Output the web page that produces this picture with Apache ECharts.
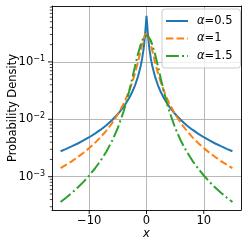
<!DOCTYPE html>
<html>
<head>
<meta charset="utf-8">
<script src="https://cdn.jsdelivr.net/npm/echarts@6/dist/echarts.min.js"></script>
<style>
html,body{margin:0;padding:0;background:#fff;}
#c{width:249px;height:249px;}
</style>
</head>
<body>
<div id="c"></div>
<script>
const X = [-15,-14,-13,-12,-11,-10,-9,-8,-7,-6,-5,-4,-3.5,-3,-2.5,-2,-1.5,-1,-0.75,-0.5,-0.25,-0.1,0,0.1,0.25,0.5,0.75,1,1.5,2,2.5,3,3.5,4,5,6,7,8,9,10,11,12,13,14,15];
const alpha05 = [0.00278,0.00306,0.00340,0.00379,0.00428,0.00487,0.00563,0.00660,0.00790,0.00971,0.01235,0.01651,0.01959,0.02380,0.02985,0.03914,0.0549,0.0861,0.1161,0.1708,0.2957,0.475,0.6366,0.475,0.2957,0.1708,0.1161,0.0861,0.0549,0.03914,0.02985,0.02380,0.01959,0.01651,0.01235,0.00971,0.00790,0.00660,0.00563,0.00487,0.00428,0.00379,0.00340,0.00306,0.00278];
const alpha1 = [0.00141,0.00162,0.00187,0.00220,0.00261,0.00315,0.00388,0.00490,0.00637,0.00860,0.01224,0.01872,0.0240,0.0318,0.0439,0.0637,0.0979,0.1592,0.2037,0.2546,0.2996,0.3152,0.3183,0.3152,0.2996,0.2546,0.2037,0.1592,0.0979,0.0637,0.0439,0.0318,0.0240,0.01872,0.01224,0.00860,0.00637,0.00490,0.00388,0.00315,0.00261,0.00220,0.00187,0.00162,0.00141];
const alpha15 = [0.000363,0.000434,0.000526,0.000648,0.000814,0.00105,0.00139,0.00191,0.00275,0.00422,0.00711,0.01367,0.0202,0.0316,0.0511,0.0845,0.1361,0.2020,0.2347,0.2623,0.2808,0.2863,0.2874,0.2863,0.2808,0.2623,0.2347,0.2020,0.1361,0.0845,0.0511,0.0316,0.0202,0.01367,0.00711,0.00422,0.00275,0.00191,0.00139,0.00105,0.000814,0.000648,0.000526,0.000434,0.000363];
const seriesNames = ['α=0.5','α=1','α=1.5'];
const xTicks = [-10, 0, 10];
const yMajorTicks = [1e-3, 1e-2, 1e-1];
const yMinorTicks = [3e-4,4e-4,5e-4,6e-4,7e-4,8e-4,9e-4,2e-3,3e-3,4e-3,5e-3,6e-3,7e-3,8e-3,9e-3,2e-2,3e-2,4e-2,5e-2,6e-2,7e-2,8e-2,9e-2,2e-1,3e-1,4e-1,5e-1,6e-1,7e-1,8e-1,9e-1];

const FONT = 'DejaVu Sans';
const FS = 11.5;
const LW = 2;
const XMIN = -16.5, XMAX = 16.5;
const YMIN = Math.pow(10, -3.58), YMAX = Math.pow(10, -0.026);

function pairs(vals) { return X.map((x, i) => [x, vals[i]]); }

function tickSeries(data, kind) {
  return {
    type: 'custom', silent: true, clip: false, z: 5,
    xAxisIndex: 0, yAxisIndex: 0,
    data: data,
    renderItem: function (params, api) {
      if (kind === 'x') {
        const p = api.coord([api.value(0), YMIN]);
        return {type: 'line', shape: {x1: p[0], y1: p[1], x2: p[0], y2: p[1] + 4}, style: {stroke: '#000', lineWidth: 0.9}};
      }
      const p = api.coord([XMIN, api.value(1)]);
      const len = api.value(2);
      return {type: 'line', shape: {x1: p[0] - len, y1: p[1], x2: p[0], y2: p[1]}, style: {stroke: '#000', lineWidth: len > 3 ? 0.9 : 0.7}};
    }
  };
}

const option = {
  animation: false,
  textStyle: {fontFamily: FONT},
  grid: {left: 52, right: 8, top: 6, bottom: 39, containLabel: false, outerBoundsMode: 'none'},
  legend: {
    data: seriesNames,
    orient: 'vertical',
    left: 162, top: 9,
    padding: [6, 8, 6, 3],
    itemWidth: 22, itemHeight: 10, itemGap: 5.5,
    itemStyle: {color: 'rgba(0,0,0,0)', borderColor: 'rgba(0,0,0,0)', borderWidth: 0},
    backgroundColor: 'rgba(255,255,255,0.8)',
    borderColor: '#cccccc', borderWidth: 1, borderRadius: 3,
    formatter: function (name) { return '{i|α}{n|' + name.slice(1) + '}'; },
    textStyle: {
      fontSize: FS, color: '#000', fontFamily: FONT,
      rich: {
        i: {fontSize: FS, fontStyle: 'italic', fontFamily: FONT, color: '#000', padding: [0, 0, 0, 4]},
        n: {fontSize: FS, fontFamily: FONT, color: '#000'}
      }
    }
  },
  xAxis: [{
    type: 'value', min: XMIN, max: XMAX, splitNumber: 3, position: 'bottom',
    axisLine: {show: true, onZero: false, lineStyle: {color: '#000', width: 0.9}},
    axisTick: {show: false},
    axisLabel: {
      showMinLabel: false, showMaxLabel: false, margin: 5,
      fontSize: FS, color: '#000', fontFamily: FONT,
      formatter: function (v) { return (v < 0 ? '\u2212' : '') + Math.abs(v); }
    },
    splitLine: {show: true, showMinLine: false, showMaxLine: false, lineStyle: {color: '#b0b0b0', width: 0.9}},
    name: 'x', nameLocation: 'middle', nameGap: 18, nameMoveOverlap: false,
    nameTextStyle: {fontSize: FS, fontStyle: 'italic', color: '#000', fontFamily: FONT}
  }, {
    type: 'value', min: XMIN, max: XMAX, position: 'top',
    axisLine: {show: true, onZero: false, lineStyle: {color: '#000', width: 0.9}},
    axisTick: {show: false}, axisLabel: {show: false}, splitLine: {show: false}
  }],
  yAxis: [{
    type: 'log', logBase: 10, min: YMIN, max: YMAX, position: 'left',
    axisLine: {show: true, onZero: false, lineStyle: {color: '#000', width: 0.9}},
    axisTick: {show: false},
    minorTick: {show: false},
    axisLabel: {
      showMinLabel: false, showMaxLabel: false, margin: 7,
      formatter: function (v) {
        const e = Math.round(Math.log10(v));
        return '{b|10}{s|' + (e < 0 ? '\u2212' : '') + Math.abs(e) + '}';
      },
      rich: {
        b: {fontSize: FS, fontFamily: FONT, color: '#000', lineHeight: 14},
        s: {fontSize: 8, fontFamily: FONT, color: '#000', lineHeight: 6, verticalAlign: 'top'}
      }
    },
    splitLine: {show: true, showMinLine: false, showMaxLine: false, lineStyle: {color: '#b0b0b0', width: 0.9}},
    name: 'Probability Density', nameLocation: 'middle', nameGap: 33, nameMoveOverlap: false,
    nameTextStyle: {fontSize: FS, color: '#000', fontFamily: FONT}
  }, {
    type: 'log', logBase: 10, min: YMIN, max: YMAX, position: 'right',
    axisLine: {show: true, onZero: false, lineStyle: {color: '#000', width: 0.9}},
    axisTick: {show: false}, axisLabel: {show: false}, splitLine: {show: false}
  }],
  series: [
    {name: seriesNames[0], type: 'line', data: pairs(alpha05), symbol: 'none', showSymbol: false,
     color: '#1f77b4', lineStyle: {color: '#1f77b4', width: LW, type: 'solid'}, z: 2},
    {name: seriesNames[1], type: 'line', data: pairs(alpha1), symbol: 'none', showSymbol: false,
     color: '#ff7f0e', lineStyle: {color: '#ff7f0e', width: LW, type: [7.4, 3.2]}, z: 3},
    {name: seriesNames[2], type: 'line', data: pairs(alpha15), symbol: 'none', showSymbol: false,
     color: '#2ca02c', lineStyle: {color: '#2ca02c', width: LW, type: [12.8, 3.2, 2, 3.2]}, z: 4},
    tickSeries(xTicks.map(v => [v, YMIN]), 'x'),
    tickSeries(yMajorTicks.map(v => [XMIN, v, 4]), 'y'),
    tickSeries(yMinorTicks.map(v => [XMIN, v, 2.2]), 'y')
  ]
};
const chart = echarts.init(document.getElementById('c'), null, {renderer: 'canvas'});
chart.setOption(option);
</script>
</body>
</html>
